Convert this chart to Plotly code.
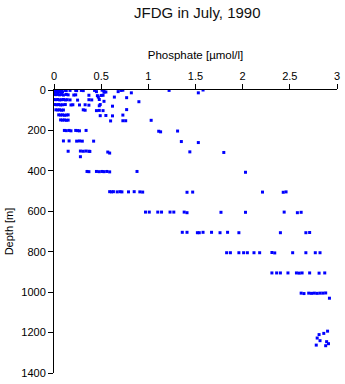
import plotly.graph_objects as go

# Phosphate [umol/l] and depth [m], grouped by depth level
p_0 = [0.00, 0.02, 0.04, 0.06, 0.08, 0.12, 0.13, 0.17, 0.23, 0.24, 0.29, 0.31, 0.43, 0.51, 0.53, 0.71, 0.73, 1.22, 1.58]
d_0 = [2, 1, 3, 2, 1, 2, 3, 2, 2, 3, 2, 3, 2, 1, 3, 2, 1, 2, 0]
p_10 = [0.01, 0.03, 0.05, 0.07, 0.09, 0.45, 0.53, 0.55, 0.68, 0.82, 1.53]
d_10 = [9, 10, 9, 10, 9, 8, 11, 10, 8, 14, 14]
p_25 = [0.00, 0.02, 0.04, 0.06, 0.08, 0.10, 0.13, 0.15, 0.21, 0.23, 0.37, 0.46, 0.50, 0.52, 0.47, 0.64, 0.77]
d_25 = [22, 23, 22, 24, 22, 25, 22, 24, 25, 24, 26, 28, 27, 26, 35, 35, 38]
p_50 = [0.00, 0.02, 0.04, 0.06, 0.08, 0.10, 0.12, 0.14, 0.17, 0.25, 0.37, 0.40, 0.48, 0.53, 0.90]
d_50 = [47, 48, 47, 49, 48, 47, 49, 48, 49, 50, 48, 49, 47, 56, 58]
p_75 = [0.01, 0.03, 0.05, 0.07, 0.09, 0.12, 0.18, 0.20, 0.27, 0.33, 0.37, 0.48, 0.49, 0.62]
d_75 = [72, 73, 72, 74, 73, 72, 74, 73, 74, 73, 75, 78, 72, 80]
p_100 = [0.02, 0.04, 0.06, 0.08, 0.10, 0.31, 0.33, 0.45, 0.48, 0.52, 0.77]
d_100 = [98, 99, 98, 100, 99, 98, 100, 102, 101, 102, 97]
p_125 = [0.05, 0.07, 0.09, 0.11, 0.13, 0.15, 0.49, 0.55, 0.62, 0.73]
d_125 = [123, 124, 123, 125, 124, 123, 127, 126, 128, 124]
p_150 = [0.07, 0.09, 0.11, 0.13, 0.15, 0.60, 0.73, 0.76, 1.03]
d_150 = [148, 149, 148, 150, 149, 153, 152, 152, 150]
p_200 = [0.11, 0.13, 0.16, 0.18, 0.23, 0.25, 0.27, 0.34, 1.11, 1.13, 1.31]
d_200 = [200, 201, 200, 202, 200, 201, 202, 200, 204, 207, 203]
p_250 = [0.10, 0.16, 0.24, 0.27, 0.30, 0.42, 1.35, 1.53]
d_250 = [252, 252, 253, 252, 253, 253, 255, 260]
p_300 = [0.15, 0.28, 0.31, 0.34, 0.37, 0.38, 0.57, 1.44, 1.80, 0.28, 0.59]
d_300 = [303, 302, 303, 302, 303, 304, 307, 306, 309, 330, 312]
p_400 = [0.35, 0.37, 0.45, 0.48, 0.51, 0.53, 0.56, 0.59, 0.88, 2.03]
d_400 = [403, 404, 403, 404, 403, 404, 403, 405, 403, 407]
p_500 = [0.59, 0.61, 0.63, 0.67, 0.70, 0.72, 0.79, 0.85, 0.91, 0.94, 1.41, 1.47, 2.21, 2.43, 2.46]
d_500 = [503, 504, 503, 504, 503, 504, 504, 503, 504, 505, 506, 505, 505, 506, 504]
p_600 = [0.97, 1.01, 1.10, 1.14, 1.23, 1.27, 1.38, 1.41, 1.77, 2.03, 2.44, 2.58, 2.62]
d_600 = [604, 604, 604, 604, 604, 604, 604, 607, 605, 605, 604, 607, 605]
p_700 = [1.36, 1.41, 1.52, 1.54, 1.58, 1.67, 1.76, 1.84, 1.96, 2.40, 2.67, 2.71]
d_700 = [704, 704, 706, 706, 704, 704, 706, 704, 706, 706, 706, 705]
p_800 = [1.83, 1.87, 1.96, 2.01, 2.05, 2.12, 2.18, 2.31, 2.34, 2.53, 2.67, 2.77, 2.82]
d_800 = [805, 805, 805, 805, 805, 805, 805, 804, 806, 805, 805, 805, 805]
p_900 = [2.31, 2.36, 2.40, 2.48, 2.57, 2.60, 2.63, 2.71, 2.81, 2.87]
d_900 = [905, 905, 905, 905, 905, 906, 905, 905, 906, 905]
p_1000 = [2.62, 2.65, 2.70, 2.73, 2.76, 2.79, 2.82, 2.85, 2.88, 2.92]
d_1000 = [1005, 1007, 1005, 1006, 1005, 1006, 1005, 1005, 1004, 1030]
p_1200 = [2.90, 2.86, 2.81, 2.79, 2.82, 2.89, 2.78, 2.88, 2.91]
d_1200 = [1193, 1204, 1210, 1227, 1240, 1245, 1262, 1265, 1255]

phosphate = (p_0 + p_10 + p_25 + p_50 + p_75 + p_100 + p_125 + p_150 + p_200 + p_250
             + p_300 + p_400 + p_500 + p_600 + p_700 + p_800 + p_900 + p_1000 + p_1200)
depth = (d_0 + d_10 + d_25 + d_50 + d_75 + d_100 + d_125 + d_150 + d_200 + d_250
         + d_300 + d_400 + d_500 + d_600 + d_700 + d_800 + d_900 + d_1000 + d_1200)

x_ticks = [0, 0.5, 1, 1.5, 2, 2.5, 3]
x_ticklabels = ["0", "0.5", "1", "1.5", "2", "2.5", "3"]
y_ticks = [0, 200, 400, 600, 800, 1000, 1200, 1400]

FONT = "Liberation Sans, Arial, sans-serif"

fig = go.Figure(go.Scatter(
    x=phosphate, y=depth, mode="markers",
    marker=dict(symbol="square", size=3, color="#0000ff", line=dict(width=0)),
))

fig.update_layout(
    width=345, height=384,
    margin=dict(l=54, r=5, t=90, b=11),
    paper_bgcolor="white", plot_bgcolor="white",
    showlegend=False,
    font=dict(family=FONT, size=11, color="black"),
    title=dict(text="JFDG in July, 1990", x=0.572, xanchor="center", y=0.968, yanchor="middle",
               font=dict(family=FONT, size=15, color="#111111")),
    xaxis=dict(
        side="top", range=[0, 3], tickvals=x_ticks, ticktext=x_ticklabels,
        showgrid=False, zeroline=False, showline=True, linecolor="black", linewidth=1,
        ticks="outside", ticklen=5, tickcolor="black",
        tickfont=dict(family=FONT, size=11),
        title=dict(text="Phosphate [µmol/l]", font=dict(family=FONT, size=11.5), standoff=7),
    ),
    yaxis=dict(
        range=[1400, 0], tickvals=y_ticks,
        showgrid=False, zeroline=False, showline=True, linecolor="black", linewidth=1,
        ticks="outside", ticklen=5, tickcolor="black",
        tickfont=dict(family=FONT, size=11),
        title=dict(text="Depth [m]", font=dict(family=FONT, size=11), standoff=5),
    ),
)

fig.write_html("out.html")
